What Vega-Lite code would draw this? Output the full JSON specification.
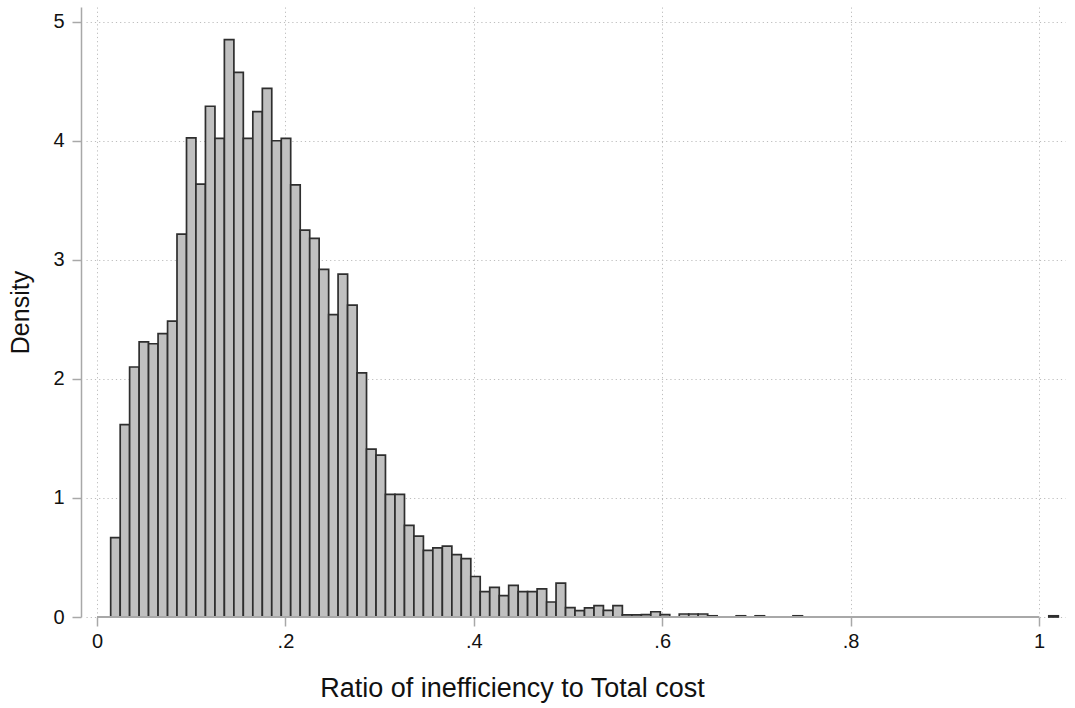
{
  "$schema": "https://vega.github.io/schema/vega-lite/v6.json",
  "width": 979,
  "height": 610,
  "autosize": {"type": "none"},
  "padding": {"left": 86, "top": 7, "right": 10, "bottom": 91},
  "background": "white",
  "config": {
    "view": {"stroke": null},
    "font": "Liberation Sans"
  },
  "data": {
    "values": [
      {"lo": 0.0145, "hi": 0.0246, "density": 0.666},
      {"lo": 0.0246, "hi": 0.0346, "density": 1.615},
      {"lo": 0.0346, "hi": 0.0447, "density": 2.1},
      {"lo": 0.0447, "hi": 0.0547, "density": 2.31},
      {"lo": 0.0547, "hi": 0.0648, "density": 2.295},
      {"lo": 0.0648, "hi": 0.0749, "density": 2.38},
      {"lo": 0.0749, "hi": 0.0849, "density": 2.485},
      {"lo": 0.0849, "hi": 0.095, "density": 3.215},
      {"lo": 0.095, "hi": 0.105, "density": 4.025},
      {"lo": 0.105, "hi": 0.1151, "density": 3.635},
      {"lo": 0.1151, "hi": 0.1252, "density": 4.29},
      {"lo": 0.1252, "hi": 0.1352, "density": 4.02},
      {"lo": 0.1352, "hi": 0.1453, "density": 4.85},
      {"lo": 0.1453, "hi": 0.1553, "density": 4.575},
      {"lo": 0.1553, "hi": 0.1654, "density": 4.02},
      {"lo": 0.1654, "hi": 0.1755, "density": 4.245},
      {"lo": 0.1755, "hi": 0.1855, "density": 4.44},
      {"lo": 0.1855, "hi": 0.1956, "density": 4.0},
      {"lo": 0.1956, "hi": 0.2056, "density": 4.02},
      {"lo": 0.2056, "hi": 0.2157, "density": 3.63},
      {"lo": 0.2157, "hi": 0.2258, "density": 3.25},
      {"lo": 0.2258, "hi": 0.2358, "density": 3.18},
      {"lo": 0.2358, "hi": 0.2459, "density": 2.92},
      {"lo": 0.2459, "hi": 0.2559, "density": 2.54},
      {"lo": 0.2559, "hi": 0.266, "density": 2.88},
      {"lo": 0.266, "hi": 0.2761, "density": 2.62},
      {"lo": 0.2761, "hi": 0.2861, "density": 2.05},
      {"lo": 0.2861, "hi": 0.2962, "density": 1.41},
      {"lo": 0.2962, "hi": 0.3062, "density": 1.36},
      {"lo": 0.3062, "hi": 0.3163, "density": 1.03},
      {"lo": 0.3163, "hi": 0.3264, "density": 1.03},
      {"lo": 0.3264, "hi": 0.3364, "density": 0.77},
      {"lo": 0.3364, "hi": 0.3465, "density": 0.68},
      {"lo": 0.3465, "hi": 0.3565, "density": 0.56},
      {"lo": 0.3565, "hi": 0.3666, "density": 0.58},
      {"lo": 0.3666, "hi": 0.3767, "density": 0.595},
      {"lo": 0.3767, "hi": 0.3867, "density": 0.524},
      {"lo": 0.3867, "hi": 0.3968, "density": 0.49},
      {"lo": 0.3968, "hi": 0.4068, "density": 0.34},
      {"lo": 0.4068, "hi": 0.4169, "density": 0.213},
      {"lo": 0.4169, "hi": 0.427, "density": 0.248},
      {"lo": 0.427, "hi": 0.437, "density": 0.18},
      {"lo": 0.437, "hi": 0.4471, "density": 0.265},
      {"lo": 0.4471, "hi": 0.4571, "density": 0.213},
      {"lo": 0.4571, "hi": 0.4672, "density": 0.213},
      {"lo": 0.4672, "hi": 0.4773, "density": 0.236},
      {"lo": 0.4773, "hi": 0.4873, "density": 0.126},
      {"lo": 0.4873, "hi": 0.4974, "density": 0.284},
      {"lo": 0.4974, "hi": 0.5074, "density": 0.078},
      {"lo": 0.5074, "hi": 0.5175, "density": 0.053},
      {"lo": 0.5175, "hi": 0.5276, "density": 0.077},
      {"lo": 0.5276, "hi": 0.5376, "density": 0.095},
      {"lo": 0.5376, "hi": 0.5477, "density": 0.055},
      {"lo": 0.5477, "hi": 0.5577, "density": 0.095},
      {"lo": 0.5577, "hi": 0.5678, "density": 0.018},
      {"lo": 0.5678, "hi": 0.5779, "density": 0.018},
      {"lo": 0.5779, "hi": 0.5879, "density": 0.02},
      {"lo": 0.5879, "hi": 0.598, "density": 0.044},
      {"lo": 0.598, "hi": 0.608, "density": 0.02},
      {"lo": 0.6181, "hi": 0.6282, "density": 0.025},
      {"lo": 0.6282, "hi": 0.6382, "density": 0.025},
      {"lo": 0.6382, "hi": 0.6483, "density": 0.025},
      {"lo": 0.6483, "hi": 0.6583, "density": 0.01},
      {"lo": 0.6785, "hi": 0.6885, "density": 0.01},
      {"lo": 0.6986, "hi": 0.7086, "density": 0.01},
      {"lo": 0.7388, "hi": 0.7489, "density": 0.01},
      {"lo": 1.0104, "hi": 1.0205, "density": 0.01}
    ]
  },
  "layer": [
    {
      "mark": {"type": "bar", "fill": "#c0c0c0", "stroke": "#2e2e2e", "strokeWidth": 1.7},
      "encoding": {
        "x": {
          "field": "lo",
          "type": "quantitative",
          "scale": {"domain": [-0.0117, 1.0276], "nice": false, "zero": false},
          "axis": {
            "values": [0, 0.2, 0.4, 0.6, 0.8, 1],
            "labelExpr": "datum.value == 0 ? '0' : datum.value == 1 ? '1' : replace(format(datum.value, '.1f'), '0.', '.')",
            "domain": false,
            "ticks": true,
            "tickSize": 9,
            "tickColor": "#a8a8a8",
            "tickWidth": 1.5,
            "grid": true,
            "gridColor": "#bdbdbd",
            "gridDash": [1.2, 3],
            "gridWidth": 1,
            "labelFontSize": 20,
            "labelColor": "#111111",
            "labelPadding": 5,
            "labelFlush": false,
            "title": "Ratio of inefficiency to Total cost",
            "titleFontSize": 27,
            "titleFontWeight": "normal",
            "titleColor": "#111111",
            "titlePadding": 24,
            "titleX": 426
          }
        },
        "x2": {"field": "hi"},
        "y": {
          "field": "density",
          "type": "quantitative",
          "scale": {"domain": [0, 5.1235], "nice": false},
          "axis": {
            "values": [0, 1, 2, 3, 4, 5],
            "format": "d",
            "offset": 5,
            "domain": true,
            "domainColor": "#a8a8a8",
            "domainWidth": 1.5,
            "tickSize": 9,
            "tickColor": "#a8a8a8",
            "tickWidth": 1.5,
            "grid": true,
            "gridColor": "#bdbdbd",
            "gridDash": [1.2, 3],
            "gridWidth": 1,
            "labelFontSize": 20,
            "labelColor": "#111111",
            "labelPadding": 8,
            "labelFlush": false,
            "title": "Density",
            "titleFontSize": 25,
            "titleFontWeight": "normal",
            "titleColor": "#111111",
            "titlePadding": 19
          }
        },
        "y2": {"datum": 0}
      }
    },
    {
      "mark": {"type": "rule", "color": "#a8a8a8", "strokeWidth": 1.5},
      "encoding": {
        "x": {"datum": 0, "type": "quantitative"},
        "x2": {"datum": 1},
        "y": {"datum": 0, "type": "quantitative"}
      }
    }
  ]
}
